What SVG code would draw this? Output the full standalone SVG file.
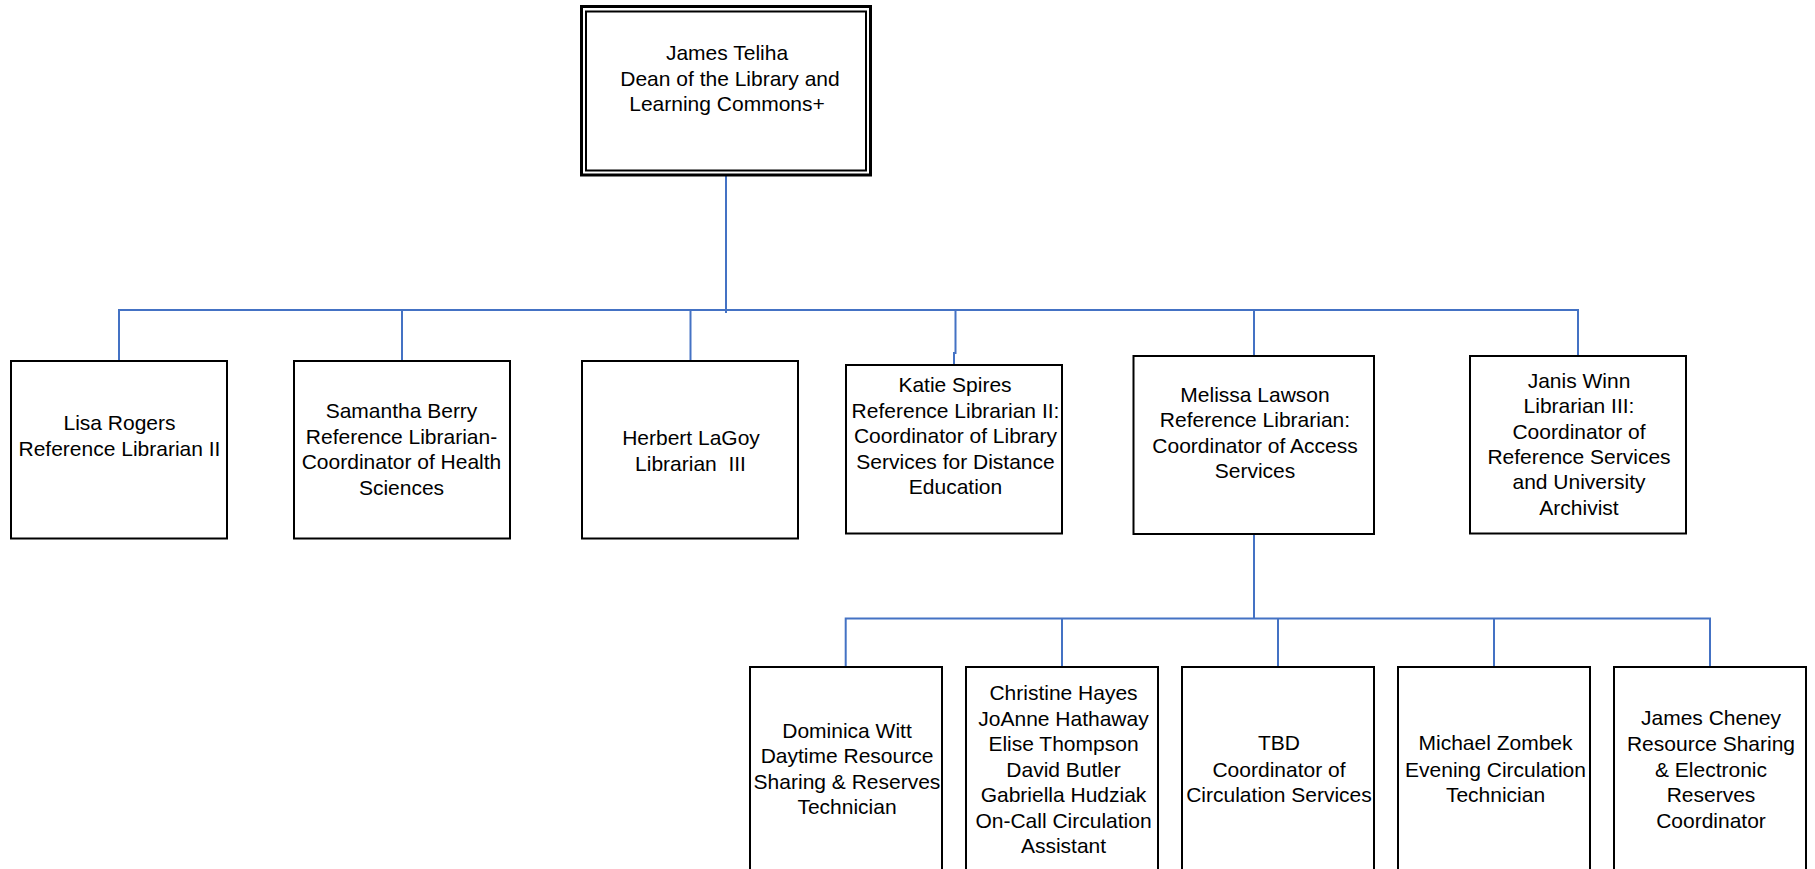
<svg xmlns="http://www.w3.org/2000/svg" width="1815" height="869" viewBox="0 0 1815 869">
<style>
.box{fill:#fff;stroke:#000;stroke-width:2}
.t{font-family:"Liberation Sans",Arial,sans-serif;font-size:21px;fill:#000;text-anchor:middle;white-space:pre}
.c{fill:none;stroke:#4472C4;stroke-width:2}
</style>
<rect width="1815" height="869" fill="#fff"/>
<g id="connectors">
<path class="c" d="M726 175V313"/>
<path class="c" d="M119 361V310H1578V356"/>
<path class="c" d="M402 310V361"/>
<path class="c" d="M690.5 310V361"/>
<path class="c" d="M955.5 310V353H954V365"/>
<path class="c" d="M1254 310V356"/>
<path class="c" d="M1254 534V618.5"/>
<path class="c" d="M845.7 667V618.5H1710V667"/>
<path class="c" d="M1062 618.5V667"/>
<path class="c" d="M1278 618.5V667"/>
<path class="c" d="M1494 618.5V667"/>
</g>
<g id="dean">
<rect x="581.5" y="6.5" width="289" height="168.5" fill="#fff" stroke="#000" stroke-width="3"/>
<rect x="586" y="11.5" width="280" height="159" fill="none" stroke="#000" stroke-width="2"/>
<text class="t" x="727" y="60">James Teliha</text>
<text class="t" x="730" y="85.5">Dean of the Library and</text>
<text class="t" x="727" y="111">Learning Commons+</text>
</g>
<g id="lisa">
<rect class="box" x="11" y="361" width="216" height="177.5"/>
<text class="t" x="119.5" y="430">Lisa Rogers</text>
<text class="t" x="119.5" y="456">Reference Librarian II</text>
</g>
<g id="samantha">
<rect class="box" x="294" y="361" width="216" height="177.5"/>
<text class="t" x="401.5" y="418">Samantha Berry</text>
<text class="t" x="401.5" y="443.5">Reference Librarian-</text>
<text class="t" x="401.5" y="469">Coordinator of Health</text>
<text class="t" x="401.5" y="494.5">Sciences</text>
</g>
<g id="herbert">
<rect class="box" x="582" y="361" width="216" height="177.5"/>
<text class="t" x="691" y="445">Herbert LaGoy</text>
<text class="t" x="690.5" y="470.5">Librarian  III</text>
</g>
<g id="katie">
<rect class="box" x="846" y="365" width="216" height="168.5"/>
<text class="t" x="955" y="392">Katie Spires</text>
<text class="t" x="955.5" y="417.5">Reference Librarian II:</text>
<text class="t" x="955.5" y="443">Coordinator of Library</text>
<text class="t" x="955.5" y="468.5">Services for Distance</text>
<text class="t" x="955.5" y="494">Education</text>
</g>
<g id="melissa">
<rect class="box" x="1133.5" y="356" width="240.5" height="178"/>
<text class="t" x="1255" y="401.5">Melissa Lawson</text>
<text class="t" x="1255" y="427">Reference Librarian:</text>
<text class="t" x="1255" y="452.5">Coordinator of Access</text>
<text class="t" x="1255" y="478">Services</text>
</g>
<g id="janis">
<rect class="box" x="1470" y="356" width="216" height="177.5"/>
<text class="t" x="1579" y="387.5">Janis Winn</text>
<text class="t" x="1579" y="413">Librarian III:</text>
<text class="t" x="1579" y="438.5">Coordinator of</text>
<text class="t" x="1579" y="464">Reference Services</text>
<text class="t" x="1579" y="489">and University</text>
<text class="t" x="1579" y="514.5">Archivist</text>
</g>
<g id="dominica">
<rect class="box" x="750" y="667" width="192" height="260"/>
<text class="t" x="847" y="737.5">Dominica Witt</text>
<text class="t" x="847" y="763">Daytime Resource</text>
<text class="t" x="847" y="788.5">Sharing &amp; Reserves</text>
<text class="t" x="847" y="814">Technician</text>
</g>
<g id="oncall">
<rect class="box" x="966" y="667" width="192" height="260"/>
<text class="t" x="1063.5" y="700">Christine Hayes</text>
<text class="t" x="1063.5" y="725.5">JoAnne Hathaway</text>
<text class="t" x="1063.5" y="751">Elise Thompson</text>
<text class="t" x="1063.5" y="776.5">David Butler</text>
<text class="t" x="1063.5" y="802">Gabriella Hudziak</text>
<text class="t" x="1063.5" y="827.5">On-Call Circulation</text>
<text class="t" x="1063.5" y="853">Assistant</text>
</g>
<g id="tbd">
<rect class="box" x="1182" y="667" width="192" height="260"/>
<text class="t" x="1279" y="750">TBD</text>
<text class="t" x="1279" y="776.5">Coordinator of</text>
<text class="t" x="1279" y="802">Circulation Services</text>
</g>
<g id="michael">
<rect class="box" x="1398" y="667" width="192" height="260"/>
<text class="t" x="1495.5" y="750">Michael Zombek</text>
<text class="t" x="1495.5" y="776.5">Evening Circulation</text>
<text class="t" x="1495.5" y="802">Technician</text>
</g>
<g id="cheney">
<rect class="box" x="1614" y="667" width="192" height="260"/>
<text class="t" x="1711" y="725">James Cheney</text>
<text class="t" x="1711" y="750.5">Resource Sharing</text>
<text class="t" x="1711" y="776.5">&amp; Electronic</text>
<text class="t" x="1711" y="802">Reserves</text>
<text class="t" x="1711" y="827.5">Coordinator</text>
</g>
</svg>
